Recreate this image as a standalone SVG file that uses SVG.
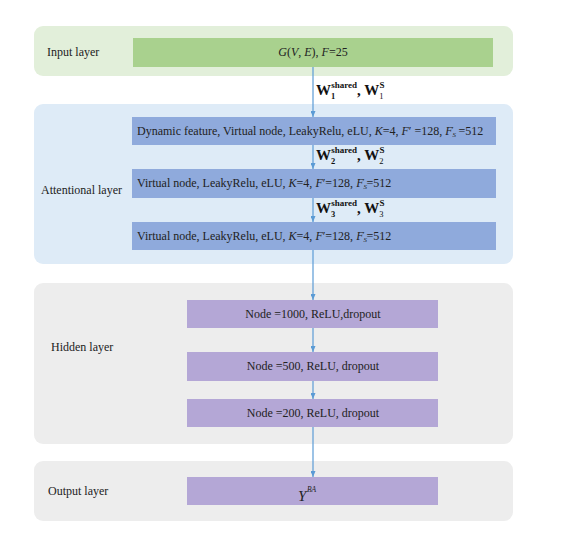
<svg xmlns="http://www.w3.org/2000/svg" width="574" height="545" viewBox="0 0 574 545">
<defs>
<style>
.t{font-family:"Liberation Serif","Times New Roman",serif;font-size:12px;fill:#222}
.lbl{font-family:"Liberation Serif","Times New Roman",serif;font-size:12px;fill:#222}
.w{font-family:"Liberation Serif","Times New Roman",serif;font-weight:bold;fill:#111}
.conn{stroke:#5b9bd5;stroke-width:1.2;fill:none}
</style>
<marker id="ah" viewBox="0 0 6 5" refX="6" refY="2.5" markerWidth="6" markerHeight="5" markerUnits="userSpaceOnUse" orient="auto">
<path d="M0,0 L6,2.5 L0,5 Z" fill="#5b9bd5"/>
</marker>
</defs>
<rect width="574" height="545" fill="#ffffff"/>

<g id="panel-input">
<rect x="34" y="26" width="479" height="50" rx="9" fill="#e2efda"/>
<text class="lbl" x="47" y="56">Input layer</text>
</g>
<g id="panel-attention">
<rect x="34" y="104" width="479" height="160" rx="9" fill="#deebf7"/>
<text class="lbl" x="41" y="194">Attentional layer</text>
</g>
<g id="panel-hidden">
<rect x="34" y="283" width="479" height="161" rx="9" fill="#ededed"/>
<text class="lbl" x="51" y="351">Hidden layer</text>
</g>
<g id="panel-output">
<rect x="34" y="461" width="479" height="60" rx="9" fill="#ededed"/>
<text class="lbl" x="48" y="495">Output layer</text>
</g>

<g id="node-input">
<rect x="133" y="38" width="360" height="29" fill="#a9d18e"/>
<text class="t" x="313" y="56" text-anchor="middle"><tspan font-style="italic">G</tspan>(<tspan font-style="italic">V</tspan>, <tspan font-style="italic">E</tspan>),  <tspan font-style="italic">F</tspan>=25</text>
</g>

<g id="node-att1">
<rect x="132" y="117" width="364" height="28" fill="#8faadc"/>
<text class="t" x="137" y="135">Dynamic feature, Virtual node, LeakyRelu, eLU, <tspan font-style="italic">K</tspan>=4, <tspan font-style="italic">F</tspan>′ =128, <tspan font-style="italic">F</tspan><tspan font-style="italic" font-size="7" dy="2">S</tspan><tspan font-size="7" dx="-4" dy="-6">′</tspan><tspan dx="2" dy="4"> =512</tspan></text>
</g>
<g id="node-att2">
<rect x="132" y="169" width="364" height="29" fill="#8faadc"/>
<text class="t" x="137" y="187">Virtual node, LeakyRelu, eLU, <tspan font-style="italic">K</tspan>=4,  <tspan font-style="italic">F</tspan>′=128, <tspan font-style="italic">F</tspan><tspan font-style="italic" font-size="7" dy="2">S</tspan><tspan font-size="7" dx="-4" dy="-6">′</tspan><tspan dx="2" dy="4">=512</tspan></text>
</g>
<g id="node-att3">
<rect x="132" y="222" width="364" height="28" fill="#8faadc"/>
<text class="t" x="137" y="240">Virtual node, LeakyRelu, eLU, <tspan font-style="italic">K</tspan>=4,  <tspan font-style="italic">F</tspan>′=128, <tspan font-style="italic">F</tspan><tspan font-style="italic" font-size="7" dy="2">S</tspan><tspan font-size="7" dx="-4" dy="-6">′</tspan><tspan dx="2" dy="4">=512</tspan></text>
</g>

<g id="node-h1">
<rect x="187" y="300" width="251" height="28" fill="#b4a7d6"/>
<text class="t" x="313" y="318" text-anchor="middle">Node =1000, ReLU,dropout</text>
</g>
<g id="node-h2">
<rect x="187" y="352" width="251" height="29" fill="#b4a7d6"/>
<text class="t" x="313" y="370" text-anchor="middle">Node =500, ReLU, dropout</text>
</g>
<g id="node-h3">
<rect x="187" y="399" width="251" height="28" fill="#b4a7d6"/>
<text class="t" x="313" y="417" text-anchor="middle">Node =200, ReLU, dropout</text>
</g>
<g id="node-out">
<rect x="187" y="477" width="251" height="28" fill="#b4a7d6"/>
<text class="t" x="298" y="501" style="font-style:italic;font-size:15px">Y</text>
<text class="t" x="307" y="492" style="font-style:italic;font-size:7.5px">BA</text>
</g>

<g id="connectors">
<line class="conn" x1="313" y1="67" x2="313" y2="117" marker-end="url(#ah)"/>
<line class="conn" x1="313" y1="145" x2="313" y2="169" marker-end="url(#ah)"/>
<line class="conn" x1="313" y1="198" x2="313" y2="222" marker-end="url(#ah)"/>
<line class="conn" x1="313" y1="250" x2="313" y2="300" marker-end="url(#ah)"/>
<line class="conn" x1="313" y1="328" x2="313" y2="352" marker-end="url(#ah)"/>
<line class="conn" x1="313" y1="381" x2="313" y2="399" marker-end="url(#ah)"/>
<line class="conn" x1="313" y1="427" x2="313" y2="477" marker-end="url(#ah)"/>
</g>

<g id="weight-labels">
<text class="w" x="316" y="95" font-size="15">W<tspan font-size="8.5" dy="4">1</tspan><tspan font-size="9" dx="-4" dy="-11">shared</tspan><tspan font-size="15" dy="7">, W</tspan><tspan font-size="8.5" dy="4" font-weight="normal">1</tspan><tspan font-size="9" dx="-4" dy="-11">S</tspan></text>
<text class="w" x="316" y="160" font-size="15">W<tspan font-size="8.5" dy="4">2</tspan><tspan font-size="9" dx="-4" dy="-11">shared</tspan><tspan font-size="15" dy="7">, W</tspan><tspan font-size="8.5" dy="4" font-weight="normal">2</tspan><tspan font-size="9" dx="-4" dy="-11">S</tspan></text>
<text class="w" x="316" y="213" font-size="15">W<tspan font-size="8.5" dy="4">3</tspan><tspan font-size="9" dx="-4" dy="-11">shared</tspan><tspan font-size="15" dy="7">, W</tspan><tspan font-size="8.5" dy="4" font-weight="normal">3</tspan><tspan font-size="9" dx="-4" dy="-11">S</tspan></text>
</g>
</svg>
